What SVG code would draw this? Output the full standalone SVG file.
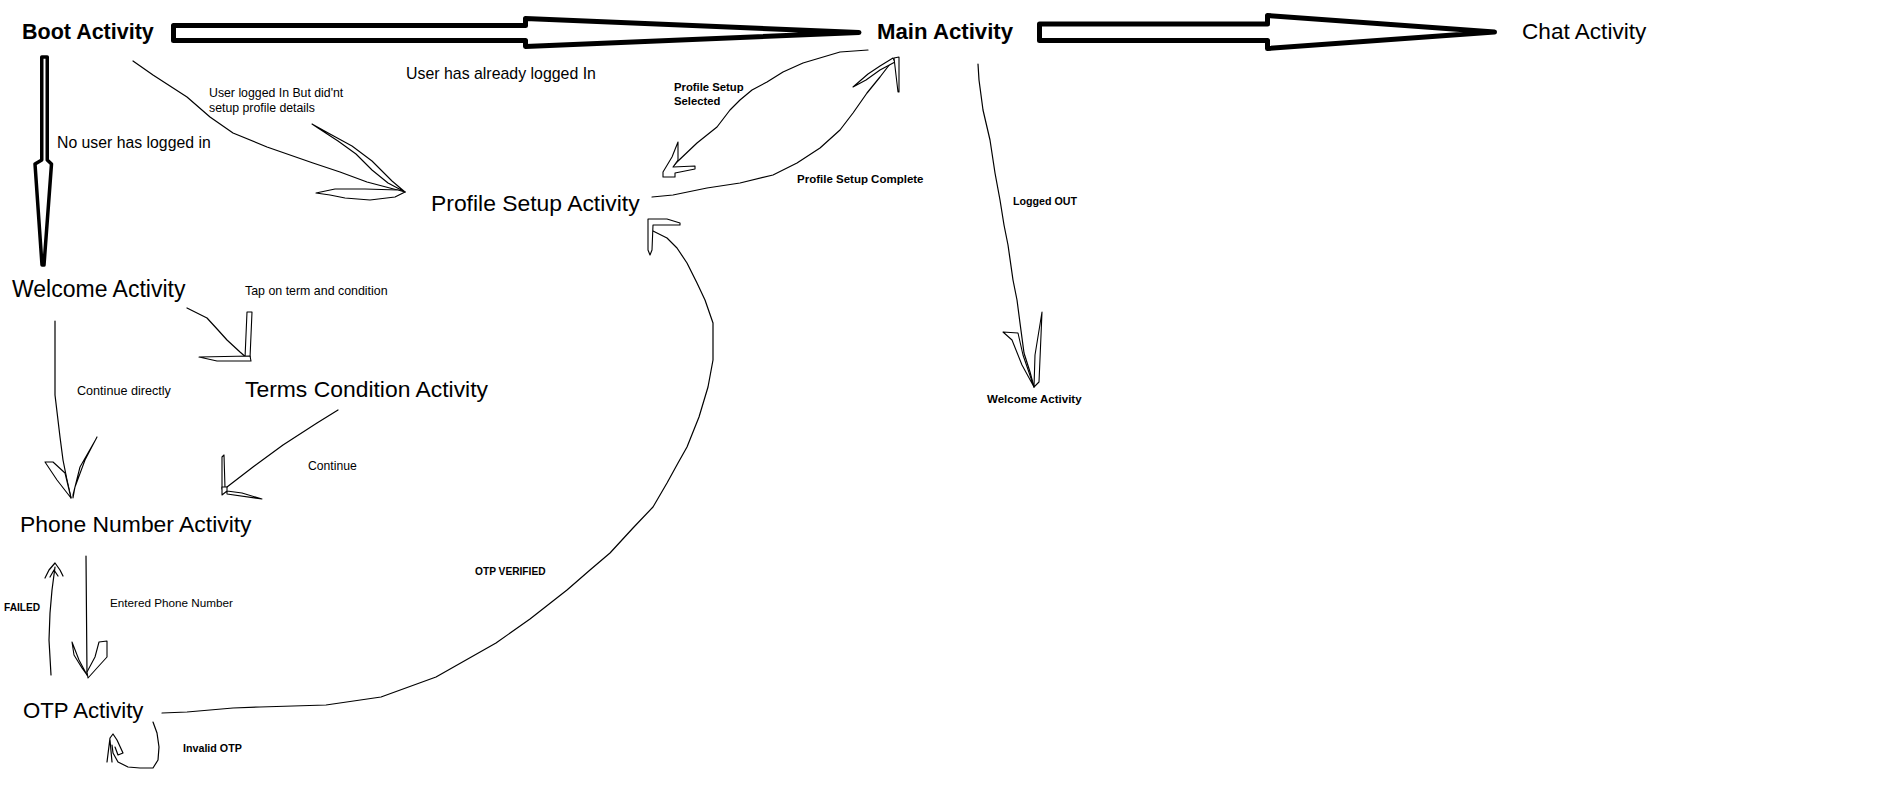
<svg xmlns="http://www.w3.org/2000/svg" width="1889" height="786" viewBox="0 0 1889 786">
<style>
text{font-family:"Liberation Sans",Arial,sans-serif;fill:#000}
.t{font-size:23px}
.b{font-weight:bold}
.s{font-size:12.3px}
.sb{font-size:11px;font-weight:bold}
.ln{fill:none;stroke:#000;stroke-width:1.2;stroke-linejoin:round;stroke-linecap:round}
.hd{fill:#fff;stroke:#000;stroke-width:1.1;stroke-linejoin:round}
.fat{fill:#fff;stroke:#000;stroke-width:5;stroke-linejoin:round}
</style>
<rect width="1889" height="786" fill="#fff"/>

<g id="connectors">
  <!-- Boot -> Main (fat arrow) -->
  <path class="fat" d="M173.5,25.5 L525.5,25.5 L525.5,18.5 L859,32.5 L525.5,46.5 L525.5,40.5 L173.5,40.5 Z"/>
  <!-- Main -> Chat (fat arrow) -->
  <path class="fat" d="M1039.5,24 L1267.5,24 L1267.5,15.5 L1494.5,32 L1267.5,48.5 L1267.5,40.5 L1039.5,40.5 Z"/>
  <!-- Boot -> Welcome (fat vertical arrow) -->
  <path class="fat" style="stroke-width:3.5" d="M41.75,57 L47.25,57 L47.25,160 L51.5,164 L44,265 L42,265 L35,164 L41.75,160 Z"/>

  <!-- Boot -> Profile Setup -->
  <path class="ln" d="M133,61 L153,75 L170,86 L187,97 L210,117 L233,133 L267,147 L313,163 L340,172 L367,182 L405,192"/>
  <path class="hd" d="M312,124 L330,134 L352,146 L372,161 L392,181 L405,192 L388,183 L372,170 L356,154 L338,141 L318,128 Z"/>
  <path class="hd" d="M316,193 L335,189 L365,189 L398,190 L405,192 L395,197 L370,200 L345,198 L330,195 Z"/>

  <!-- Main -> Profile Setup (selected) -->
  <path class="ln" d="M868,50 L840,52 L803,63 L783,72 L767,82 L752,90 L740,100 L730,110 L717,127 L697,143 L677,162 L665,175"/>
  <path class="hd" d="M678,142 L678,160 L673,167 L695,166 L695,169 L675,173 L675,177 L663,177 L663,172 L672,157 Z"/>

  <!-- Profile Setup -> Main (complete) -->
  <path class="ln" d="M652,197 L673,195 L707,188 L740,183 L773,175 L797,163 L820,148 L840,130 L853,113 L867,93 L880,77 L893,60"/>
  <path class="hd" d="M853,87 L868,74 L880,66 L893,58 L895,62 L880,70 L866,80 Z"/>
  <path class="hd" d="M894,58 L899,57 L899,92 L898,92 Z"/>

  <!-- Main -> Welcome (logged out) -->
  <path class="ln" d="M978,64 L979,80 L983,110 L990,140 L995,173 L1000,200 L1004,225 L1008,245 L1013,280 L1017,300 L1020,323 L1024,353 L1030,372 L1034,387"/>
  <path class="hd" d="M1003,332 L1018,333 L1023,355 L1034,387 L1022,365 L1012,340 Z"/>
  <path class="hd" d="M1042,312 L1039,382 L1034,387 L1035,355 Z"/>

  <!-- Welcome -> Terms -->
  <path class="ln" d="M187,308 L207,318 L218,330 L227,340 L240,352 L248,359"/>
  <path class="hd" d="M247,312 L252,312 L250,358 L245,358 Z"/>
  <path class="hd" d="M199,357 L250,356 L251,361 L217,361 Z"/>

  <!-- Welcome -> Phone -->
  <path class="ln" d="M55,321 L55,395 L60,437 L63,460 L67,480 L71,498"/>
  <path class="hd" d="M45,462 L53,462 L65,473 L71,498 L57,480 Z"/>
  <path class="hd" d="M97,437 L85,460 L75,487 L73,498 L73,495 L80,467 L96,439 Z"/>

  <!-- Terms -> Phone -->
  <path class="ln" d="M338,410 L317,423 L283,445 L253,467 L227,487"/>
  <path class="hd" d="M222,457 L224,455 L225,488 L222,489 Z"/>
  <path class="hd" d="M222,487 L227,487 L227,494 L262,499 L242,493 L227,491 L222,495 Z"/>

  <!-- Phone -> OTP -->
  <path class="ln" d="M86,556 L87,675"/>
  <path class="hd" d="M72,642 L74,655 L82,668 L87,675 L79,660 Z"/>
  <path class="hd" d="M107,641 L107,657 L97,668 L88,678 L87,672 L95,657 L99,642 Z"/>

  <!-- OTP -> Phone (failed) -->
  <path class="ln" d="M51,675 L49,640 L50,613 L52,590 L55,567"/>
  <path class="ln" d="M45,578 L49,570 L55,563 L60,570 L63,576 M50,577 L54,570 L58,576"/>

  <!-- OTP -> Profile Setup (verified) -->
  <path class="ln" d="M162,713 L187,712 L233,708 L260,707 L326,705 L381,697 L436,677 L496,643 L530,619 L567,590 L590,570 L610,553 L633,528 L653,507 L667,483 L678,463 L687,447 L699,417 L708,387 L713,360 L713,323 L705,300 L697,283 L687,263 L677,248 L667,238 L653,231"/>
  <path class="hd" d="M648,219 L667,219 L680,223 L680,225 L653,225 L652,250 L650,255 L648,250 Z"/>

  <!-- OTP self loop (invalid) -->
  <path class="ln" d="M153,722 L157,733 L159,747 L158,760 L153,768 L140,768 L128,767 L118,762 L113,753 L112,745"/>
  <path class="ln" d="M107,762 L110,738 L113,734 L117,740 L123,753 L118,755 L115,747 M110,740 L112,762"/>
</g>

<g id="node-boot"><text class="t b" x="22" y="39" style="font-size:21.5px">Boot Activity</text></g>
<g id="node-main"><text class="t b" x="877" y="39" style="font-size:22.2px">Main Activity</text></g>
<g id="node-chat"><text class="t" x="1522" y="39" style="font-size:22.6px">Chat Activity</text></g>
<g id="node-profile"><text class="t" x="431" y="211" style="font-size:22.9px">Profile Setup Activity</text></g>
<g id="node-welcome"><text class="t" x="12" y="297" style="font-size:23px">Welcome Activity</text></g>
<g id="node-terms"><text class="t" x="245" y="397" style="font-size:22.9px">Terms Condition Activity</text></g>
<g id="node-phone"><text class="t" x="20" y="532" style="font-size:22.9px">Phone Number Activity</text></g>
<g id="node-otp"><text class="t" x="23" y="718" style="font-size:22.2px">OTP Activity</text></g>
<g id="node-welcome2"><text class="sb" x="987" y="403" style="font-size:11.5px">Welcome Activity</text></g>

<g id="labels">
  <text x="406" y="79" style="font-size:15.9px">User has already logged In</text>
  <text x="57" y="148" style="font-size:15.8px">No user has logged in</text>
  <text class="s" x="209" y="97">User logged In But did'nt</text>
  <text class="s" x="209" y="112">setup profile details</text>
  <text class="sb" x="674" y="91" style="font-size:11.3px">Profile Setup</text>
  <text class="sb" x="674" y="105" style="font-size:11.3px">Selected</text>
  <text class="sb" x="797" y="183" style="font-size:11.5px">Profile Setup Complete</text>
  <text class="sb" x="1013" y="205" style="font-size:10.7px">Logged OUT</text>
  <text class="s" x="245" y="295" style="font-size:12.4px">Tap on term and condition</text>
  <text class="s" x="77" y="395" style="font-size:12.6px">Continue directly</text>
  <text class="s" x="308" y="470" style="font-size:12.2px">Continue</text>
  <text class="sb" x="4" y="611" style="font-size:10.2px">FAILED</text>
  <text class="s" x="110" y="607" style="font-size:11.7px">Entered Phone Number</text>
  <text class="sb" x="475" y="575" style="font-size:10.2px">OTP VERIFIED</text>
  <text class="sb" x="183" y="752" style="font-size:10.7px">Invalid OTP</text>
</g>
</svg>
